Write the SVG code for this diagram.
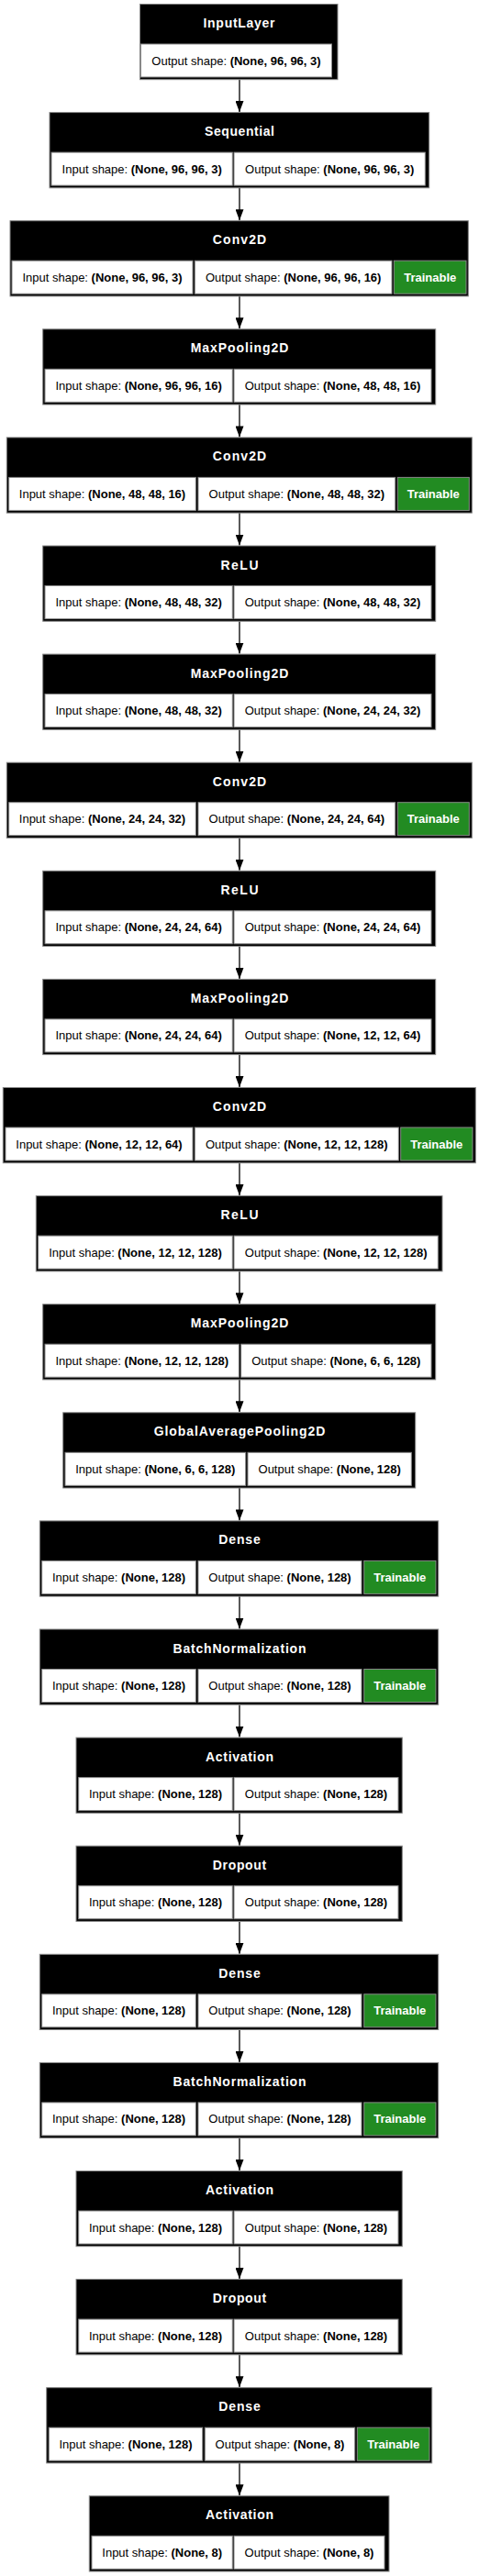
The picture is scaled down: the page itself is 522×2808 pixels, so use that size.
<svg xmlns="http://www.w3.org/2000/svg" width="522" height="2808" viewBox="0 0 522 2808">
<defs>
<style>
.o{fill:#000;stroke:#888;stroke-width:1}
.c{fill:#fff;stroke:#888;stroke-width:1}
.g{fill:#228b22;stroke:#888;stroke-width:1}
.h{font-family:"Liberation Sans",Arial,sans-serif;font-weight:bold;font-size:14px;fill:#fff;text-anchor:middle}
.t{font-family:"Liberation Sans",Arial,sans-serif;font-size:13px;fill:#000;text-anchor:middle}
.t tspan.b{font-weight:bold}
.tr{font-family:"Liberation Sans",Arial,sans-serif;font-weight:bold;font-size:13px;fill:#fff;text-anchor:middle}
.e{stroke:#000;stroke-width:1.3;fill:none}
</style>
<marker id="ah" markerUnits="userSpaceOnUse" markerWidth="12" markerHeight="9" refX="12" refY="4.5" orient="auto">
<path d="M0,0 L12,4.5 L0,9 z" fill="#000"/>
</marker>
</defs>
<rect width="522" height="2808" fill="#fff"/>
<g id="connectors">
<line class="e" x1="261" y1="86.7" x2="261" y2="122.1" marker-end="url(#ah)"/>
<line class="e" x1="261" y1="204.8" x2="261" y2="240.2" marker-end="url(#ah)"/>
<line class="e" x1="261" y1="322.9" x2="261" y2="358.3" marker-end="url(#ah)"/>
<line class="e" x1="261" y1="441" x2="261" y2="476.4" marker-end="url(#ah)"/>
<line class="e" x1="261" y1="559.1" x2="261" y2="594.5" marker-end="url(#ah)"/>
<line class="e" x1="261" y1="677.2" x2="261" y2="712.6" marker-end="url(#ah)"/>
<line class="e" x1="261" y1="795.3" x2="261" y2="830.7" marker-end="url(#ah)"/>
<line class="e" x1="261" y1="913.4" x2="261" y2="948.8" marker-end="url(#ah)"/>
<line class="e" x1="261" y1="1031.5" x2="261" y2="1066.9" marker-end="url(#ah)"/>
<line class="e" x1="261" y1="1149.6" x2="261" y2="1185" marker-end="url(#ah)"/>
<line class="e" x1="261" y1="1267.7" x2="261" y2="1303.1" marker-end="url(#ah)"/>
<line class="e" x1="261" y1="1385.8" x2="261" y2="1421.2" marker-end="url(#ah)"/>
<line class="e" x1="261" y1="1503.9" x2="261" y2="1539.3" marker-end="url(#ah)"/>
<line class="e" x1="261" y1="1622" x2="261" y2="1657.4" marker-end="url(#ah)"/>
<line class="e" x1="261" y1="1740.1" x2="261" y2="1775.5" marker-end="url(#ah)"/>
<line class="e" x1="261" y1="1858.2" x2="261" y2="1893.6" marker-end="url(#ah)"/>
<line class="e" x1="261" y1="1976.3" x2="261" y2="2011.7" marker-end="url(#ah)"/>
<line class="e" x1="261" y1="2094.4" x2="261" y2="2129.8" marker-end="url(#ah)"/>
<line class="e" x1="261" y1="2212.5" x2="261" y2="2247.9" marker-end="url(#ah)"/>
<line class="e" x1="261" y1="2330.6" x2="261" y2="2366" marker-end="url(#ah)"/>
<line class="e" x1="261" y1="2448.7" x2="261" y2="2484.1" marker-end="url(#ah)"/>
<line class="e" x1="261" y1="2566.8" x2="261" y2="2602.2" marker-end="url(#ah)"/>
<line class="e" x1="261" y1="2684.9" x2="261" y2="2720.3" marker-end="url(#ah)"/>
</g>

<g id="n0" transform="translate(0,4)">
<rect class="o" x="152.5" y="0.5" width="215.5" height="82.2"/>
<text class="h" x="260.5" y="26" textLength="78" lengthAdjust="spacing">InputLayer</text>
<rect class="c" x="153.5" y="44" width="208" height="36"/>
<text class="t" x="257.5" y="66.5">Output shape: <tspan class="b">(None, 96, 96, 3)</tspan></text>
</g>

<g id="n1" transform="translate(0,122.1)">
<rect class="o" x="54" y="0.5" width="413.7" height="82.2"/>
<text class="h" x="261" y="26" textLength="76" lengthAdjust="spacing">Sequential</text>
<rect class="c" x="56" y="44" width="197.3" height="36"/>
<text class="t" x="154.7" y="66.5">Input shape: <tspan class="b">(None, 96, 96, 3)</tspan></text>
<rect class="c" x="255" y="44" width="208.3" height="36"/>
<text class="t" x="359.2" y="66.5">Output shape: <tspan class="b">(None, 96, 96, 3)</tspan></text>
</g>

<g id="n2" transform="translate(0,240.2)">
<rect class="o" x="11" y="0.5" width="499.3" height="82.2"/>
<text class="h" x="261" y="26" textLength="58.3" lengthAdjust="spacing">Conv2D</text>
<rect class="c" x="13" y="44" width="197" height="36"/>
<text class="t" x="111.5" y="66.5">Input shape: <tspan class="b">(None, 96, 96, 3)</tspan></text>
<rect class="c" x="212.3" y="44" width="214.7" height="36"/>
<text class="t" x="319.7" y="66.5">Output shape: <tspan class="b">(None, 96, 96, 16)</tspan></text>
<rect class="g" x="429.3" y="44" width="78.7" height="36"/>
<text class="tr" x="468.7" y="66.5">Trainable</text>
</g>

<g id="n3" transform="translate(0,358.3)">
<rect class="o" x="46.7" y="0.5" width="428" height="82.2"/>
<text class="h" x="261" y="26" textLength="106.7" lengthAdjust="spacing">MaxPooling2D</text>
<rect class="c" x="49" y="44" width="204.3" height="36"/>
<text class="t" x="151.2" y="66.5">Input shape: <tspan class="b">(None, 96, 96, 16)</tspan></text>
<rect class="c" x="255" y="44" width="215" height="36"/>
<text class="t" x="362.5" y="66.5">Output shape: <tspan class="b">(None, 48, 48, 16)</tspan></text>
</g>

<g id="n4" transform="translate(0,476.4)">
<rect class="o" x="7.3" y="0.5" width="507" height="82.2"/>
<text class="h" x="261" y="26" textLength="58.3" lengthAdjust="spacing">Conv2D</text>
<rect class="c" x="9.7" y="44" width="203.6" height="36"/>
<text class="t" x="111.5" y="66.5">Input shape: <tspan class="b">(None, 48, 48, 16)</tspan></text>
<rect class="c" x="216" y="44" width="214.7" height="36"/>
<text class="t" x="323.3" y="66.5">Output shape: <tspan class="b">(None, 48, 48, 32)</tspan></text>
<rect class="g" x="433.3" y="44" width="78" height="36"/>
<text class="tr" x="472.3" y="66.5">Trainable</text>
</g>

<g id="n5" transform="translate(0,594.5)">
<rect class="o" x="46.7" y="0.5" width="428" height="82.2"/>
<text class="h" x="261" y="26" textLength="41" lengthAdjust="spacing">ReLU</text>
<rect class="c" x="49" y="44" width="204.3" height="36"/>
<text class="t" x="151.2" y="66.5">Input shape: <tspan class="b">(None, 48, 48, 32)</tspan></text>
<rect class="c" x="255" y="44" width="215" height="36"/>
<text class="t" x="362.5" y="66.5">Output shape: <tspan class="b">(None, 48, 48, 32)</tspan></text>
</g>

<g id="n6" transform="translate(0,712.6)">
<rect class="o" x="46.7" y="0.5" width="428" height="82.2"/>
<text class="h" x="261" y="26" textLength="106.7" lengthAdjust="spacing">MaxPooling2D</text>
<rect class="c" x="49" y="44" width="204.3" height="36"/>
<text class="t" x="151.2" y="66.5">Input shape: <tspan class="b">(None, 48, 48, 32)</tspan></text>
<rect class="c" x="255" y="44" width="215" height="36"/>
<text class="t" x="362.5" y="66.5">Output shape: <tspan class="b">(None, 24, 24, 32)</tspan></text>
</g>

<g id="n7" transform="translate(0,830.7)">
<rect class="o" x="7.3" y="0.5" width="507" height="82.2"/>
<text class="h" x="261" y="26" textLength="58.3" lengthAdjust="spacing">Conv2D</text>
<rect class="c" x="9.7" y="44" width="203.6" height="36"/>
<text class="t" x="111.5" y="66.5">Input shape: <tspan class="b">(None, 24, 24, 32)</tspan></text>
<rect class="c" x="216" y="44" width="214.7" height="36"/>
<text class="t" x="323.3" y="66.5">Output shape: <tspan class="b">(None, 24, 24, 64)</tspan></text>
<rect class="g" x="433.3" y="44" width="78" height="36"/>
<text class="tr" x="472.3" y="66.5">Trainable</text>
</g>

<g id="n8" transform="translate(0,948.8)">
<rect class="o" x="46.7" y="0.5" width="428" height="82.2"/>
<text class="h" x="261" y="26" textLength="41" lengthAdjust="spacing">ReLU</text>
<rect class="c" x="49" y="44" width="204.3" height="36"/>
<text class="t" x="151.2" y="66.5">Input shape: <tspan class="b">(None, 24, 24, 64)</tspan></text>
<rect class="c" x="255" y="44" width="215" height="36"/>
<text class="t" x="362.5" y="66.5">Output shape: <tspan class="b">(None, 24, 24, 64)</tspan></text>
</g>

<g id="n9" transform="translate(0,1066.9)">
<rect class="o" x="46.7" y="0.5" width="428" height="82.2"/>
<text class="h" x="261" y="26" textLength="106.7" lengthAdjust="spacing">MaxPooling2D</text>
<rect class="c" x="49" y="44" width="204.3" height="36"/>
<text class="t" x="151.2" y="66.5">Input shape: <tspan class="b">(None, 24, 24, 64)</tspan></text>
<rect class="c" x="255" y="44" width="215" height="36"/>
<text class="t" x="362.5" y="66.5">Output shape: <tspan class="b">(None, 12, 12, 64)</tspan></text>
</g>

<g id="n10" transform="translate(0,1185)">
<rect class="o" x="3.3" y="0.5" width="515" height="82.2"/>
<text class="h" x="261" y="26" textLength="58.3" lengthAdjust="spacing">Conv2D</text>
<rect class="c" x="6" y="44" width="204" height="36"/>
<text class="t" x="108" y="66.5">Input shape: <tspan class="b">(None, 12, 12, 64)</tspan></text>
<rect class="c" x="212.3" y="44" width="222" height="36"/>
<text class="t" x="323.3" y="66.5">Output shape: <tspan class="b">(None, 12, 12, 128)</tspan></text>
<rect class="g" x="436.7" y="44" width="78.3" height="36"/>
<text class="tr" x="475.8" y="66.5">Trainable</text>
</g>

<g id="n11" transform="translate(0,1303.1)">
<rect class="o" x="39.3" y="0.5" width="442.7" height="82.2"/>
<text class="h" x="261" y="26" textLength="41" lengthAdjust="spacing">ReLU</text>
<rect class="c" x="41.7" y="44" width="211.6" height="36"/>
<text class="t" x="147.5" y="66.5">Input shape: <tspan class="b">(None, 12, 12, 128)</tspan></text>
<rect class="c" x="255" y="44" width="222.3" height="36"/>
<text class="t" x="366.2" y="66.5">Output shape: <tspan class="b">(None, 12, 12, 128)</tspan></text>
</g>

<g id="n12" transform="translate(0,1421.2)">
<rect class="o" x="46.7" y="0.5" width="428" height="82.2"/>
<text class="h" x="261" y="26" textLength="106.7" lengthAdjust="spacing">MaxPooling2D</text>
<rect class="c" x="49" y="44" width="211.3" height="36"/>
<text class="t" x="154.7" y="66.5">Input shape: <tspan class="b">(None, 12, 12, 128)</tspan></text>
<rect class="c" x="262.7" y="44" width="207.3" height="36"/>
<text class="t" x="366.3" y="66.5">Output shape: <tspan class="b">(None, 6, 6, 128)</tspan></text>
</g>

<g id="n13" transform="translate(0,1539.3)">
<rect class="o" x="68.7" y="0.5" width="384" height="82.2"/>
<text class="h" x="261" y="26" textLength="186.7" lengthAdjust="spacing">GlobalAveragePooling2D</text>
<rect class="c" x="71" y="44" width="196.7" height="36"/>
<text class="t" x="169.3" y="66.5">Input shape: <tspan class="b">(None, 6, 6, 128)</tspan></text>
<rect class="c" x="270" y="44" width="178.3" height="36"/>
<text class="t" x="359.2" y="66.5">Output shape: <tspan class="b">(None, 128)</tspan></text>
</g>

<g id="n14" transform="translate(0,1657.4)">
<rect class="o" x="43.3" y="0.5" width="434.4" height="82.2"/>
<text class="h" x="261" y="26" textLength="45.7" lengthAdjust="spacing">Dense</text>
<rect class="c" x="45.7" y="44" width="167.6" height="36"/>
<text class="t" x="129.5" y="66.5">Input shape: <tspan class="b">(None, 128)</tspan></text>
<rect class="c" x="216" y="44" width="178" height="36"/>
<text class="t" x="305" y="66.5">Output shape: <tspan class="b">(None, 128)</tspan></text>
<rect class="g" x="396.7" y="44" width="78.3" height="36"/>
<text class="tr" x="435.8" y="66.5">Trainable</text>
</g>

<g id="n15" transform="translate(0,1775.5)">
<rect class="o" x="43.3" y="0.5" width="434.4" height="82.2"/>
<text class="h" x="261" y="26" textLength="145" lengthAdjust="spacing">BatchNormalization</text>
<rect class="c" x="45.7" y="44" width="167.6" height="36"/>
<text class="t" x="129.5" y="66.5">Input shape: <tspan class="b">(None, 128)</tspan></text>
<rect class="c" x="216" y="44" width="178" height="36"/>
<text class="t" x="305" y="66.5">Output shape: <tspan class="b">(None, 128)</tspan></text>
<rect class="g" x="396.7" y="44" width="78.3" height="36"/>
<text class="tr" x="435.8" y="66.5">Trainable</text>
</g>

<g id="n16" transform="translate(0,1893.6)">
<rect class="o" x="83" y="0.5" width="355.3" height="82.2"/>
<text class="h" x="261" y="26" textLength="74" lengthAdjust="spacing">Activation</text>
<rect class="c" x="85.7" y="44" width="167.6" height="36"/>
<text class="t" x="169.5" y="66.5">Input shape: <tspan class="b">(None, 128)</tspan></text>
<rect class="c" x="255" y="44" width="179" height="36"/>
<text class="t" x="344.5" y="66.5">Output shape: <tspan class="b">(None, 128)</tspan></text>
</g>

<g id="n17" transform="translate(0,2011.7)">
<rect class="o" x="83" y="0.5" width="355.3" height="82.2"/>
<text class="h" x="261" y="26" textLength="58.3" lengthAdjust="spacing">Dropout</text>
<rect class="c" x="85.7" y="44" width="167.6" height="36"/>
<text class="t" x="169.5" y="66.5">Input shape: <tspan class="b">(None, 128)</tspan></text>
<rect class="c" x="255" y="44" width="179" height="36"/>
<text class="t" x="344.5" y="66.5">Output shape: <tspan class="b">(None, 128)</tspan></text>
</g>

<g id="n18" transform="translate(0,2129.8)">
<rect class="o" x="43.3" y="0.5" width="434.4" height="82.2"/>
<text class="h" x="261" y="26" textLength="45.7" lengthAdjust="spacing">Dense</text>
<rect class="c" x="45.7" y="44" width="167.6" height="36"/>
<text class="t" x="129.5" y="66.5">Input shape: <tspan class="b">(None, 128)</tspan></text>
<rect class="c" x="216" y="44" width="178" height="36"/>
<text class="t" x="305" y="66.5">Output shape: <tspan class="b">(None, 128)</tspan></text>
<rect class="g" x="396.7" y="44" width="78.3" height="36"/>
<text class="tr" x="435.8" y="66.5">Trainable</text>
</g>

<g id="n19" transform="translate(0,2247.9)">
<rect class="o" x="43.3" y="0.5" width="434.4" height="82.2"/>
<text class="h" x="261" y="26" textLength="145" lengthAdjust="spacing">BatchNormalization</text>
<rect class="c" x="45.7" y="44" width="167.6" height="36"/>
<text class="t" x="129.5" y="66.5">Input shape: <tspan class="b">(None, 128)</tspan></text>
<rect class="c" x="216" y="44" width="178" height="36"/>
<text class="t" x="305" y="66.5">Output shape: <tspan class="b">(None, 128)</tspan></text>
<rect class="g" x="396.7" y="44" width="78.3" height="36"/>
<text class="tr" x="435.8" y="66.5">Trainable</text>
</g>

<g id="n20" transform="translate(0,2366)">
<rect class="o" x="83" y="0.5" width="355.3" height="82.2"/>
<text class="h" x="261" y="26" textLength="74" lengthAdjust="spacing">Activation</text>
<rect class="c" x="85.7" y="44" width="167.6" height="36"/>
<text class="t" x="169.5" y="66.5">Input shape: <tspan class="b">(None, 128)</tspan></text>
<rect class="c" x="255" y="44" width="179" height="36"/>
<text class="t" x="344.5" y="66.5">Output shape: <tspan class="b">(None, 128)</tspan></text>
</g>

<g id="n21" transform="translate(0,2484.1)">
<rect class="o" x="83" y="0.5" width="355.3" height="82.2"/>
<text class="h" x="261" y="26" textLength="58.3" lengthAdjust="spacing">Dropout</text>
<rect class="c" x="85.7" y="44" width="167.6" height="36"/>
<text class="t" x="169.5" y="66.5">Input shape: <tspan class="b">(None, 128)</tspan></text>
<rect class="c" x="255" y="44" width="179" height="36"/>
<text class="t" x="344.5" y="66.5">Output shape: <tspan class="b">(None, 128)</tspan></text>
</g>

<g id="n22" transform="translate(0,2602.2)">
<rect class="o" x="50.7" y="0.5" width="420" height="82.2"/>
<text class="h" x="261" y="26" textLength="45.7" lengthAdjust="spacing">Dense</text>
<rect class="c" x="53.3" y="44" width="167.4" height="36"/>
<text class="t" x="137" y="66.5">Input shape: <tspan class="b">(None, 128)</tspan></text>
<rect class="c" x="223.3" y="44" width="163.4" height="36"/>
<text class="t" x="305" y="66.5">Output shape: <tspan class="b">(None, 8)</tspan></text>
<rect class="g" x="389.3" y="44" width="78.7" height="36"/>
<text class="tr" x="428.7" y="66.5">Trainable</text>
</g>

<g id="n23" transform="translate(0,2720.3)">
<rect class="o" x="97.3" y="0.5" width="326.7" height="82.2"/>
<text class="h" x="261" y="26" textLength="74" lengthAdjust="spacing">Activation</text>
<rect class="c" x="100" y="44" width="153.3" height="36"/>
<text class="t" x="176.7" y="66.5">Input shape: <tspan class="b">(None, 8)</tspan></text>
<rect class="c" x="255" y="44" width="164" height="36"/>
<text class="t" x="337" y="66.5">Output shape: <tspan class="b">(None, 8)</tspan></text>
</g>
</svg>
